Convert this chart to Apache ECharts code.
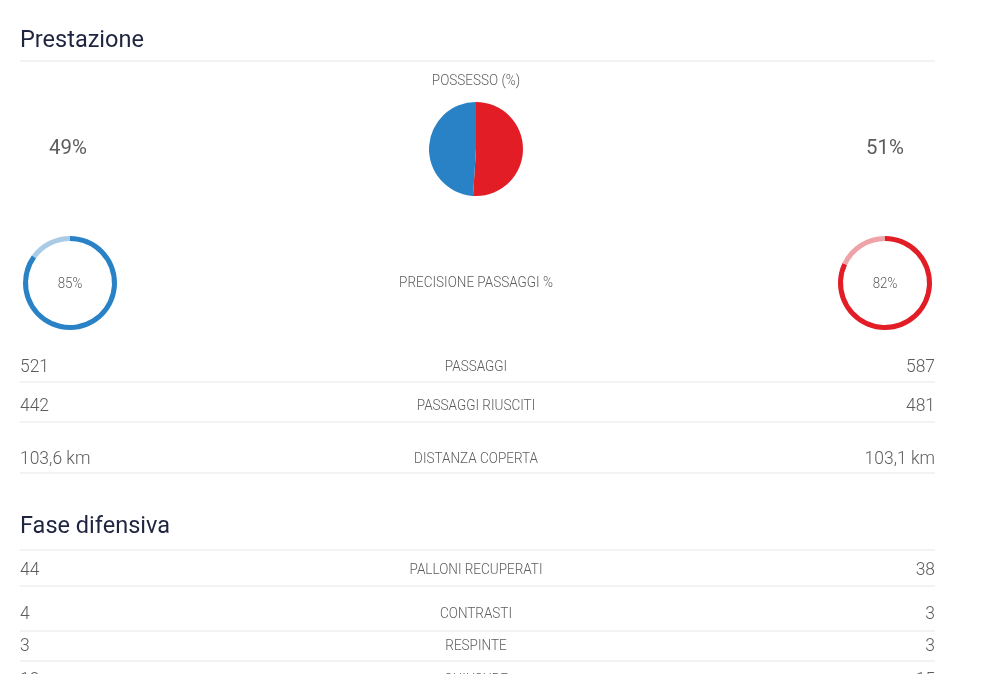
<!DOCTYPE html>
<html>
<head>
<meta charset="utf-8">
<script src="https://cdn.jsdelivr.net/npm/echarts@6/dist/echarts.min.js"></script>
<style>
html,body{margin:0;padding:0;background:#fff;}
#chart{width:1000px;height:674px;}
</style>
</head>
<body>
<div id="chart"></div>
<script>
// ---- data ----
const sectionTitles = ['Prestazione', 'Fase difensiva'];
const possessionLabel = 'POSSESSO (%)';
const possession = [49, 51];            // home, away
const accuracyLabel = 'PRECISIONE PASSAGGI %';
const passAccuracy = [85, 82];          // home, away
const perfLabels = ['PASSAGGI', 'PASSAGGI RIUSCITI', 'DISTANZA COPERTA'];
const perfHome = ['521', '442', '103,6 km'];
const perfAway = ['587', '481', '103,1 km'];
const defLabels = ['PALLONI RECUPERATI', 'CONTRASTI', 'RESPINTE', 'CHIUSURE'];
const defHome = ['44', '4', '3', '13'];
const defAway = ['38', '3', '3', '15'];

// ---- style ----
const BLUE = '#2a82c6', BLUE_LIGHT = '#a9cbe6';
const RED = '#e21d26', RED_LIGHT = '#eda3a7';
const TXT = '#5c5c5c', LINE = '#e6e6e6', TITLE = '#1f2440';
const FONT = 'Roboto, "DejaVu Sans", sans-serif';
const L = 20, R = 935, CX = 476;

const graphic = [];
function text(x, y, s, size, align, color, weight, sx) {
  graphic.push({type: 'text', x: x, y: y, scaleX: sx || 1, style: {text: s, fontSize: size, fontFamily: FONT,
    fontWeight: weight || 300, fill: color || TXT, align: align, verticalAlign: 'middle'}});
}
function hline(y) {
  graphic.push({type: 'line', shape: {x1: L, y1: y, x2: R, y2: y}, style: {stroke: LINE, lineWidth: 1}});
}
const LAB = 15, LABSX = 0.9, VAL = 18, VALSX = 0.97;

// section 1
text(L, 41, sectionTitles[0], 24, 'left', TITLE, 400, 0.98);
hline(61);
text(CX, 81, possessionLabel, LAB, 'center', TXT, 300, LABSX);
text(68, 149, possession[0] + '%', 21, 'center', TXT, 400, 0.97);
text(885, 149, possession[1] + '%', 21, 'center', TXT, 400, 0.97);
text(70, 284, passAccuracy[0] + '%', 14, 'center', TXT, 300, 0.95);
text(885, 284, passAccuracy[1] + '%', 14, 'center', TXT, 300, 0.95);
text(CX, 283, accuracyLabel, LAB, 'center', TXT, 300, LABSX);

const perfY = [367, 406, 459];
const perfLineY = [382, 422, 473];
perfLabels.forEach(function (lab, i) {
  text(L, perfY[i], perfHome[i], VAL, 'left', TXT, 300, VALSX);
  text(CX, perfY[i], lab, LAB, 'center', TXT, 300, LABSX);
  text(R, perfY[i], perfAway[i], VAL, 'right', TXT, 300, VALSX);
  hline(perfLineY[i]);
});

// section 2
text(L, 527, sectionTitles[1], 24, 'left', TITLE, 400, 0.98);
hline(550);
const defY = [570, 614, 646, 680];
const defLineY = [586, 631, 661, null];
defLabels.forEach(function (lab, i) {
  text(L, defY[i], defHome[i], VAL, 'left', TXT, 300, VALSX);
  text(CX, defY[i], lab, LAB, 'center', TXT, 300, LABSX);
  text(R, defY[i], defAway[i], VAL, 'right', TXT, 300, VALSX);
  if (defLineY[i]) hline(defLineY[i]);
});

const chart = echarts.init(document.getElementById('chart'), null, {renderer: 'canvas'});
chart.setOption({
  animation: false,
  backgroundColor: '#fff',
  graphic: graphic,
  series: [
    {
      type: 'pie', center: [CX, 149], radius: 47, startAngle: 90, clockwise: true,
      label: {show: false}, labelLine: {show: false}, silent: true,
      data: [
        {name: 'away', value: possession[1], itemStyle: {color: RED}},
        {name: 'home', value: possession[0], itemStyle: {color: BLUE}}
      ]
    },
    {
      type: 'pie', center: [70, 283], radius: [42, 47], startAngle: 90, clockwise: true,
      label: {show: false}, labelLine: {show: false}, silent: true,
      data: [
        {name: 'riusciti', value: passAccuracy[0], itemStyle: {color: BLUE}},
        {name: 'sbagliati', value: 100 - passAccuracy[0], itemStyle: {color: BLUE_LIGHT}}
      ]
    },
    {
      type: 'pie', center: [885, 283], radius: [42, 47], startAngle: 90, clockwise: true,
      label: {show: false}, labelLine: {show: false}, silent: true,
      data: [
        {name: 'riusciti', value: passAccuracy[1], itemStyle: {color: RED}},
        {name: 'sbagliati', value: 100 - passAccuracy[1], itemStyle: {color: RED_LIGHT}}
      ]
    }
  ]
});
</script>
</body>
</html>
